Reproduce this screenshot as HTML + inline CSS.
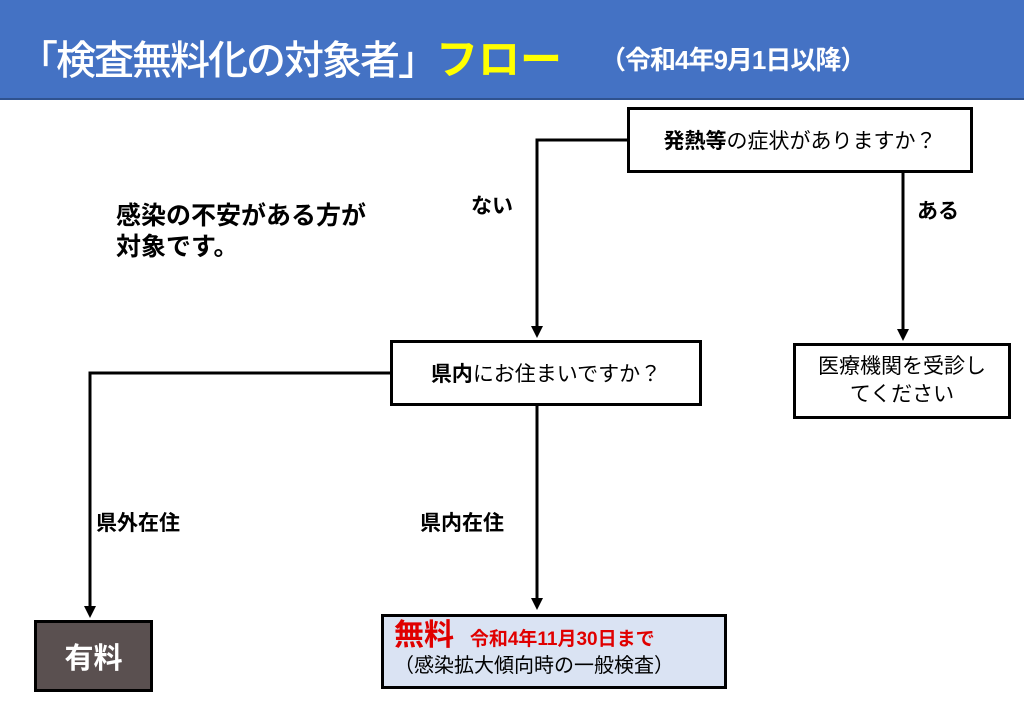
<!DOCTYPE html>
<html><head><meta charset="utf-8"><style>
body{margin:0;width:1024px;height:709px;background:#fff;position:relative;overflow:hidden;font-family:"Liberation Sans","Noto Sans CJK JP",sans-serif;}
.hd{position:absolute;left:0;top:0;width:1024px;height:98px;background:#4472c4;border-bottom:2px solid #2f528f;}
.t{position:absolute;white-space:nowrap;}
.box{position:absolute;box-sizing:border-box;border:3px solid #000;background:#fff;display:flex;align-items:center;justify-content:center;font-size:21px;}
</style></head><body>
<div class="hd"></div>
<div class="t" style="left:18px;top:26px;font-size:40px;color:#fff;font-weight:500;letter-spacing:-2px">「検査無料化の対象者」<span style="color:#ffff00;font-weight:bold;font-size:42px;letter-spacing:0">フロー</span></div>
<div class="t" style="left:600px;top:40px;font-size:26px;color:#fff;font-weight:bold;letter-spacing:-1px">（令和4年9月1日以降）</div>

<div class="box" style="left:627px;top:107px;width:346px;height:66px"><b>発熱等</b>の症状がありますか？</div>
<div class="box" style="left:390px;top:340px;width:312px;height:66px"><b>県内</b>にお住まいですか？</div>
<div class="box" style="left:793px;top:343px;width:218px;height:76px;line-height:28px;text-align:center">医療機関を受診し<br>てください</div>
<div class="box" style="left:34px;top:620px;width:119px;height:72px;background:#5a5050;color:#fff;font-size:29px;font-weight:bold">有料</div>
<div class="box" style="left:381px;top:614px;width:346px;height:75px;background:#dae3f3;display:block;padding:5px 0 0 10px">
<div style="color:#e00000;font-size:19px;line-height:28px;font-weight:bold"><span style="font-size:30px">無料</span>&nbsp;&nbsp;&nbsp;令和4年11月30日まで</div>
<div style="font-size:20px;line-height:24px">（感染拡大傾向時の一般検査）</div></div>

<div class="t" style="left:116px;top:201px;font-size:25px;font-weight:bold;line-height:31px">感染の不安がある方が<br>対象です。</div>
<div class="t" style="left:471px;top:190px;font-size:21px;font-weight:bold">ない</div>
<div class="t" style="left:917px;top:195px;font-size:21px;font-weight:bold">ある</div>
<div class="t" style="left:96px;top:507px;font-size:21px;font-weight:bold">県外在住</div>
<div class="t" style="left:420px;top:507px;font-size:21px;font-weight:bold">県内在住</div>

<svg width="1024" height="709" style="position:absolute;left:0;top:0" fill="none" stroke="#000" stroke-width="3">
<polyline points="627,140 537,140 537,328"/>
<polygon points="531,326 543,326 537,338" fill="#000" stroke="none"/>
<line x1="903" y1="173" x2="903" y2="331"/>
<polygon points="897,329 909,329 903,341" fill="#000" stroke="none"/>
<polyline points="390,373 90,373 90,608"/>
<polygon points="84,606 96,606 90,618" fill="#000" stroke="none"/>
<line x1="537" y1="406" x2="537" y2="600"/>
<polygon points="531,598 543,598 537,610" fill="#000" stroke="none"/>
</svg>
</body></html>
